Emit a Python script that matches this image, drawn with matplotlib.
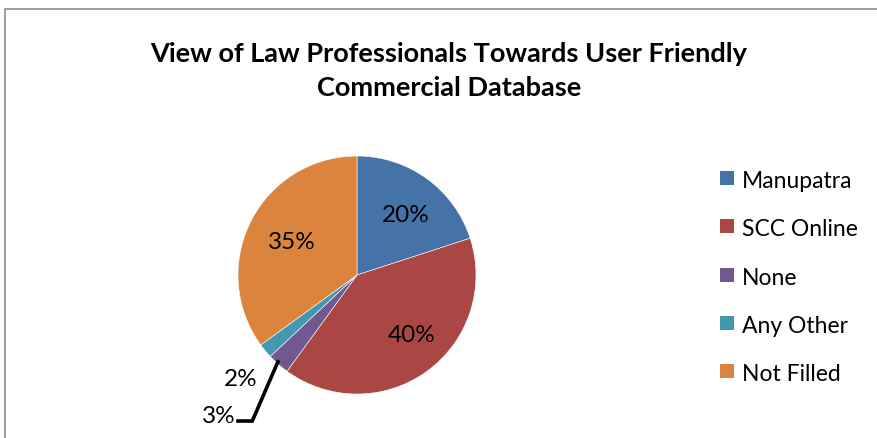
import matplotlib
matplotlib.use('Agg')
import matplotlib.pyplot as plt
from matplotlib.patches import Rectangle

categories = ["Manupatra", "SCC Online", "None", "Any Other", "Not Filled"]
shares = [20, 40, 3, 2, 35]
colors = ["#4572A7", "#AA4643", "#71588F", "#4198AF", "#DB843D"]

plt.rcParams['font.family'] = ['Lato', 'DejaVu Sans']

W, H = 877, 439
fig = plt.figure(figsize=(W / 100, H / 100), dpi=100)

def fx(px):
    return px / W

def fy(py):
    return 1 - py / H

# outer chart border (cropped at right and bottom)
fig.patches.append(Rectangle((fx(5), -0.1), 1.0, fy(10) + 0.1,
                             transform=fig.transFigure, fill=False,
                             edgecolor="#8c8c8c", linewidth=1.2))

fig.text(0.512, 0.878, "View of Law Professionals Towards User Friendly",
         ha="center", va="center", fontsize=19.5, fontweight="bold")
fig.text(0.512, 0.799, "Commercial Database",
         ha="center", va="center", fontsize=19.5, fontweight="bold")

# pie axes: center (357, 276), radius ~119 px
r = 119
cx, cy = 357, 276
ax = fig.add_axes([fx(cx - r), fy(cy + r), 2 * r / W, 2 * r / H])
wedges, _ = ax.pie(shares, colors=colors, startangle=90, counterclock=False,
                   wedgeprops=dict(edgecolor="white", linewidth=0.4))
ax.set_xlim(-1, 1)
ax.set_ylim(-1, 1)
ax.set_aspect("auto")

fs = 17.5
label_pos = {0: (0.41, 0.51), 1: (0.46, -0.50), 4: (-0.55, 0.28)}
for i, (x, y) in label_pos.items():
    ax.text(x, y, f"{shares[i]}%", ha="center", va="center", fontsize=fs)

# small slices labelled outside
ax.text(-0.975, -0.87, f"{shares[3]}%", ha="center", va="center", fontsize=fs)
ax.text(-1.16, -1.18, f"{shares[2]}%", ha="center", va="center", fontsize=fs)
ax.plot([-1.00, -0.88, -0.665], [-1.227, -1.227, -0.73], color="black",
        linewidth=2.6, clip_on=False, solid_joinstyle="miter")

# legend
for i, (name, c) in enumerate(zip(categories, colors)):
    top = 172 + 48.3 * i
    fig.patches.append(Rectangle((fx(720), fy(top + 14)), 14 / W, 14 / H,
                                 transform=fig.transFigure,
                                 facecolor=c, edgecolor="none"))
    fig.text(fx(742), fy(top + 16), name, ha="left", va="baseline",
             fontsize=16.5)

plt.savefig("out.png", dpi=100)
